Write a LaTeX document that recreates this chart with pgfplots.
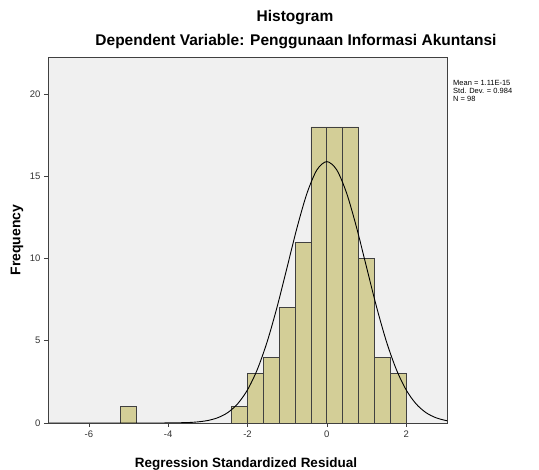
\documentclass[border=0pt]{standalone}
\usepackage{pgfplots}
\pgfplotsset{compat=1.18}
\usepackage{fontspec}
\setmainfont{Liberation Sans}
\definecolor{barfill}{RGB}{211,206,151}
\definecolor{bgc}{RGB}{240,240,240}
\definecolor{tickc}{RGB}{50,50,50}
\begin{document}
\begin{tikzpicture}[x=1pt,y=1pt]
\useasboundingbox (-48,-47) rectangle (491,423);
\begin{axis}[
  at={(0,0)}, anchor=south west,
  scale only axis, width=399pt, height=366pt,
  xmin=-7.03, xmax=3.03, ymin=0, ymax=22.25,
  axis background/.style={fill=bgc},
  axis line style={black!75, line width=0.8pt},
  xtick={-6,-4,-2,0,2}, ytick={0,5,10,15,20},
  tick align=outside, xtick pos=bottom, ytick pos=left,
  major tick length=4pt,
  tick style={black!75, line width=0.6pt},
  ticklabel style={font=\fontsize{9.5}{10}\selectfont, text=tickc},
  /pgf/number format/assume math mode=true,
  clip=true,
]
\addplot[ybar interval, fill=barfill, draw=black!75, line width=0.7pt]
  coordinates {(-5.2,1) (-4.8,1)};
\addplot[ybar interval, fill=barfill, draw=black!75, line width=0.7pt]
  coordinates {(-2.4,1) (-2.0,3) (-1.6,4) (-1.2,7) (-0.8,11) (-0.4,18) (0,18) (0.4,18) (0.8,10) (1.2,4) (1.6,3) (2.0,3)};
\addplot[smooth, black, line width=0.9pt] coordinates {
(-7,0) (-5,0.0006) (-4.5,0.0015) (-4,0.0041) (-3.5,0.0284) (-3.25,0.068) (-3,0.152) (-2.75,0.320) (-2.5,0.630) (-2.25,1.163) (-2,2.014) (-1.75,3.268) (-1.5,4.972) (-1.25,7.091) (-1,9.482) (-0.75,11.884) (-0.5,13.966) (-0.25,15.386) (0,15.89) (0.25,15.386) (0.5,13.966) (0.75,11.884) (1,9.482) (1.25,7.091) (1.5,4.972) (1.75,3.268) (2,2.014) (2.25,1.163) (2.5,0.630) (2.75,0.320) (3,0.152) (3.1,0.11)};
\end{axis}
\node[font=\bfseries\fontsize{15.5}{17}\selectfont] at (247,405) {Histogram};
\node[font=\bfseries\fontsize{15.5}{17}\selectfont] at (248,381) {Dependent Variable: Penggunaan Informasi Akuntansi};
\node[font=\bfseries\fontsize{13.5}{15}\selectfont] at (198,-41) {Regression Standardized Residual};
\node[font=\bfseries\fontsize{14}{15}\selectfont, rotate=90] at (-31,183) {Frequency};
\node[anchor=north west, align=left, inner sep=0pt, font=\fontsize{7.5}{8}\selectfont] at (405,343) {Mean = 1.11E-15\\Std. Dev. = 0.984\\N = 98};
\end{tikzpicture}
\end{document}
